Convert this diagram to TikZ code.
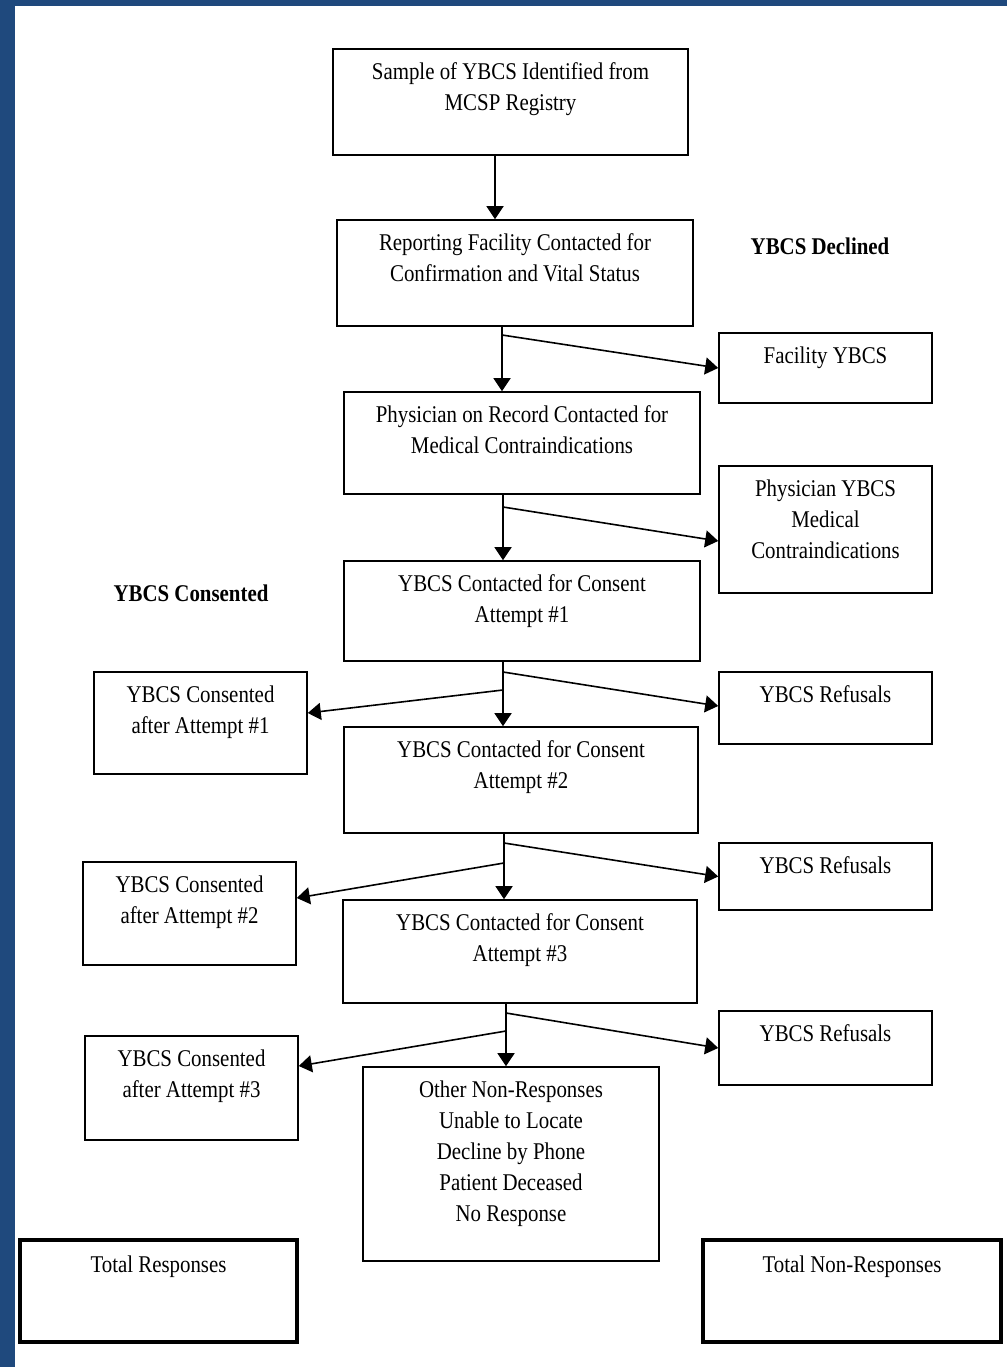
\documentclass[tikz,border=0pt]{standalone}
\usepackage{fontspec}
\setmainfont{Liberation Serif}[FakeStretch=0.87]
\usetikzlibrary{arrows.meta}
\definecolor{frameblue}{RGB}{31,73,125}

\begin{document}
\begin{tikzpicture}[x=1pt,y=-1pt,
  every node/.style={font=\fontsize{24}{31}\selectfont},
  box/.style={draw, line width=1.6pt, inner sep=0pt},
  totbox/.style={draw, line width=4pt, inner sep=0pt},
  txt/.style={anchor=north, align=center, inner sep=0pt, yshift=-14pt},
  tottxt/.style={anchor=north, align=center, inner sep=0pt, yshift=-18pt},
  head/.style={font=\fontsize{24}{31}\selectfont\bfseries},
  arr/.style={line width=1.6pt, -{Triangle[length=13pt,width=17pt]}}]

\fill[frameblue] (0,0) rectangle (1007,1367);
\fill[white] (15,6) rectangle (1007,1367);
\useasboundingbox (0,0) rectangle (1007,1367);

\node[box, minimum width=355pt, minimum height=106pt, label={[txt]north:Sample of YBCS Identified from\\MCSP Registry}] (sample) at (510.5,102) {};
\node[box, minimum width=356pt, minimum height=106pt, label={[txt]north:Reporting Facility Contacted for\\Confirmation and Vital Status}] (report) at (515,273) {};
\node[box, minimum width=356pt, minimum height=102pt, label={[txt]north:Physician on Record Contacted for\\Medical Contraindications}] (physician) at (522,443) {};
\node[box, minimum width=356pt, minimum height=100pt, label={[txt]north:YBCS Contacted for Consent\\Attempt \#1}] (att1) at (522,611) {};
\node[box, minimum width=354pt, minimum height=106pt, label={[txt]north:YBCS Contacted for Consent\\Attempt \#2}] (att2) at (521,780) {};
\node[box, minimum width=354pt, minimum height=103pt, label={[txt]north:YBCS Contacted for Consent\\Attempt \#3}] (att3) at (520,951.5) {};
\node[box, minimum width=296pt, minimum height=194pt, label={[txt]north:Other Non-Responses\\Unable to Locate\\Decline by Phone\\Patient Deceased\\No Response}] (other) at (511,1164) {};

\node[head] (declined) at (820,246) {YBCS Declined};
\node[box, minimum width=213pt, minimum height=70pt, label={[txt]north:Facility YBCS}] (facility) at (825.5,368) {};
\node[box, minimum width=213pt, minimum height=127pt, label={[txt]north:Physician YBCS\\Medical\\Contraindications}] (pmed) at (825.5,529.5) {};
\node[box, minimum width=213pt, minimum height=72pt, label={[txt]north:YBCS Refusals}] (ref1) at (825.5,708) {};
\node[box, minimum width=213pt, minimum height=67pt, label={[txt]north:YBCS Refusals}] (ref2) at (825.5,876.5) {};
\node[box, minimum width=213pt, minimum height=74pt, label={[txt]north:YBCS Refusals}] (ref3) at (825.5,1048) {};

\node[head] (consented) at (191,593) {YBCS Consented};
\node[box, minimum width=213pt, minimum height=102pt, label={[txt]north:YBCS Consented\\after Attempt \#1}] (cons1) at (200.5,723) {};
\node[box, minimum width=213pt, minimum height=103pt, label={[txt]north:YBCS Consented\\after Attempt \#2}] (cons2) at (189.5,913.5) {};
\node[box, minimum width=213pt, minimum height=104pt, label={[txt]north:YBCS Consented\\after Attempt \#3}] (cons3) at (191.5,1088) {};

\node[totbox, minimum width=277pt, minimum height=102pt, label={[tottxt]north:Total Responses}] (totresp) at (158.5,1291) {};
\node[totbox, minimum width=298pt, minimum height=102pt, label={[tottxt]north:Total Non-Responses}] (totnon) at (852,1291) {};

% junctions on the down lines
\coordinate (j0) at (495,190);
\coordinate (j1) at (502,335);
\coordinate (j2) at (503,507);
\coordinate (r1) at (503,672);
\coordinate (c1) at (503,690);
\coordinate (r2) at (504,843);
\coordinate (c2) at (504,863);
\coordinate (r3) at (506,1013);
\coordinate (c3) at (506,1031);

\draw[arr] (sample.south -| j0) -- (report.north -| j0);
\draw[arr] (report.south -| j1) -- (physician.north -| j1);
\draw[arr] (physician.south -| j2) -- (att1.north -| j2);
\draw[arr] (att1.south -| r1) -- (att2.north -| r1);
\draw[arr] (att2.south -| r2) -- (att3.north -| r2);
\draw[arr] (att3.south -| r3) -- (other.north -| r3);

\draw[arr] (j1) -- (facility.west);
\draw[arr] (j2) -- ([yshift=-11.5pt]pmed.west);
\draw[arr] (r1) -- ([yshift=2pt]ref1.west);
\draw[arr] (r2) -- (ref2.west);
\draw[arr] (r3) -- (ref3.west);

\draw[arr] (c1) -- ([yshift=10pt]cons1.east);
\draw[arr] (c2) -- ([yshift=15.5pt]cons2.east);
\draw[arr] (c3) -- ([yshift=22pt]cons3.east);

\end{tikzpicture}
\end{document}
